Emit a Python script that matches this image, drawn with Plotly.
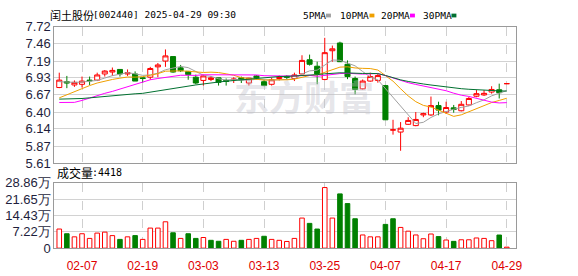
import plotly.graph_objects as go

W, H = 578, 276

# ---------------- data ----------------
dates = ["01-27", "02-05", "02-06", "02-07", "02-10", "02-11", "02-12", "02-13", "02-14", "02-17",
         "02-18", "02-19", "02-20", "02-21", "02-24", "02-25", "02-26", "02-27", "02-28", "03-03",
         "03-04", "03-05", "03-06", "03-07", "03-10", "03-11", "03-12", "03-13", "03-14", "03-17",
         "03-18", "03-19", "03-20", "03-21", "03-24", "03-25", "03-26", "03-27", "03-28", "03-31",
         "04-01", "04-02", "04-03", "04-07", "04-08", "04-09", "04-10", "04-11", "04-14", "04-15",
         "04-16", "04-17", "04-18", "04-21", "04-22", "04-23", "04-24", "04-25", "04-28", "04-29"]

opens = [6.78, 6.87, 6.82, 6.83, 6.895, 6.895, 6.99, 7.02, 7.06, 6.99,
         6.99, 6.93, 6.94, 7.10, 7.19, 7.26, 7.085, 7.03, 6.94, 6.89,
         6.905, 6.93, 6.89, 6.90, 6.93, 6.85, 6.96, 6.87, 6.83, 6.92,
         6.955, 6.92, 6.99, 7.21, 7.11, 6.905, 7.35, 7.47, 7.14, 6.92,
         6.76, 6.88, 6.89, 6.81, 6.12, 6.09, 6.21, 6.19, 6.355, 6.355,
         6.50, 6.40, 6.465, 6.42, 6.51, 6.645, 6.665, 6.71, 6.745, 6.84]
highs = [7.01, 6.96, 6.89, 6.95, 6.95, 7.01, 7.05, 7.09, 7.06, 7.06,
         7.03, 6.94, 7.10, 7.16, 7.37, 7.26, 7.13, 7.03, 6.98, 6.98,
         6.96, 6.93, 6.92, 6.94, 6.95, 6.93, 6.97, 6.90, 6.93, 6.965,
         6.97, 7.01, 7.28, 7.29, 7.18, 7.55, 7.43, 7.49, 7.20, 6.95,
         6.905, 7.01, 6.99, 6.82, 6.28, 6.245, 6.32, 6.40, 6.39, 6.64,
         6.56, 6.56, 6.51, 6.57, 6.636, 6.74, 6.74, 6.80, 6.84, 6.84]
lows = [6.77, 6.77, 6.79, 6.78, 6.82, 6.88, 6.95, 6.96, 6.95, 6.96,
        6.88, 6.855, 6.90, 6.94, 7.10, 7.01, 7.02, 6.90, 6.83, 6.81,
        6.88, 6.81, 6.81, 6.85, 6.85, 6.81, 6.90, 6.80, 6.81, 6.89,
        6.91, 6.88, 6.99, 7.12, 6.83, 6.89, 7.18, 7.18, 6.91, 6.675,
        6.75, 6.87, 6.855, 6.28, 6.05, 5.80, 6.20, 6.18, 6.32, 6.34,
        6.35, 6.37, 6.39, 6.41, 6.50, 6.63, 6.65, 6.685, 6.61, 6.84]
closes = [6.895, 6.85, 6.86, 6.88, 6.885, 6.975, 7.035, 7.045, 6.99, 7.01,
          6.88, 6.92, 7.075, 7.13, 7.27, 7.02, 7.04, 6.98, 6.85, 6.96,
          6.93, 6.86, 6.875, 6.91, 6.90, 6.925, 6.93, 6.81, 6.90, 6.935,
          6.94, 6.975, 7.20, 7.14, 6.99, 7.32, 7.38, 7.18, 6.95, 6.75,
          6.88, 6.95, 6.965, 6.28, 6.125, 6.15, 6.27, 6.285, 6.375, 6.50,
          6.43, 6.47, 6.44, 6.52, 6.61, 6.685, 6.69, 6.75, 6.70, 6.84]

# volume in 万 (10k shares)
volumes = [8.45, 6.37, 5.0, 6.37, 4.3, 6.66, 7.08, 5.54, 3.87, 5.0,
           5.54, 3.87, 8.87, 8.87, 11.66, 6.79, 4.3, 6.37, 4.3, 4.7,
           3.46, 3.04, 3.87, 3.04, 3.46, 3.87, 4.3, 5.25, 3.87, 3.46,
           2.95, 4.3, 13.3, 10.95, 8.45, 26.8, 13.3, 24.0, 19.7, 13.0,
           5.83, 5.0, 5.0, 10.5, 13.0, 9.16, 7.5, 5.83, 4.16, 6.25,
           5.1, 3.6, 3.0, 3.7, 3.7, 4.5, 4.3, 3.3, 5.8, 0.4418]

ma5 = [6.87, 6.86, 6.86, 6.865, 6.874, 6.89, 6.927, 6.964, 6.986, 7.011,
       6.992, 6.969, 6.975, 7.003, 7.055, 7.083, 7.107, 7.088, 7.032, 6.97,
       6.952, 6.916, 6.895, 6.907, 6.895, 6.894, 6.908, 6.895, 6.893, 6.90,
       6.903, 6.912, 6.99, 7.038, 7.049, 7.125, 7.206, 7.202, 7.164, 7.116,
       7.028, 6.942, 6.899, 6.765, 6.64, 6.494, 6.358, 6.222, 6.241, 6.316,
       6.372, 6.412, 6.443, 6.472, 6.494, 6.545, 6.589, 6.651, 6.687, 6.733]
ma10 = [6.62, 6.67, 6.72, 6.76, 6.81, 6.85, 6.88, 6.905, 6.925, 6.943,
        6.941, 6.948, 6.97, 6.995, 7.033, 7.038, 7.038, 7.032, 7.018, 7.013,
        7.018, 7.012, 6.992, 6.97, 6.933, 6.923, 6.912, 6.895, 6.90, 6.898,
        6.899, 6.91, 6.943, 6.966, 6.975, 7.014, 7.059, 7.096, 7.101, 7.083,
        7.077, 7.074, 7.051, 6.965, 6.878, 6.761, 6.65, 6.561, 6.503, 6.478,
        6.433, 6.385, 6.333, 6.357, 6.405, 6.459, 6.501, 6.547, 6.58, 6.614]
ma20 = [6.548, 6.548, 6.55, 6.58, 6.62, 6.655, 6.69, 6.72, 6.755, 6.79,
        6.83, 6.87, 6.90, 6.92, 6.94, 6.955, 6.97, 6.97, 6.968, 6.978,
        6.979, 6.98, 6.981, 6.982, 6.983, 6.98, 6.975, 6.963, 6.959, 6.955,
        6.958, 6.961, 6.967, 6.968, 6.954, 6.969, 6.986, 6.996, 7.001, 6.99,
        6.988, 6.992, 6.997, 6.965, 6.926, 6.888, 6.855, 6.828, 6.802, 6.78,
        6.755, 6.73, 6.692, 6.661, 6.642, 6.61, 6.575, 6.554, 6.541, 6.546]
ma30 = [6.60, 6.60, 6.60, 6.61, 6.62, 6.632, 6.645, 6.655, 6.667, 6.677,
        6.683, 6.69, 6.71, 6.728, 6.745, 6.762, 6.78, 6.80, 6.82, 6.835,
        6.855, 6.865, 6.878, 6.89, 6.90, 6.91, 6.922, 6.932, 6.942, 6.951,
        6.952, 6.957, 6.968, 6.977, 6.98, 6.992, 7.003, 7.008, 7.006, 6.998,
        6.998, 6.999, 6.995, 6.967, 6.928, 6.899, 6.874, 6.851, 6.835, 6.819,
        6.803, 6.79, 6.775, 6.762, 6.753, 6.745, 6.737, 6.735, 6.728, 6.725]

price_ticks = [7.72, 7.46, 7.19, 6.93, 6.67, 6.40, 6.14, 5.87, 5.61]
vol_ticks = [0, 7.22, 14.43, 21.65, 28.86]
date_ticks = ["02-07", "02-19", "03-03", "03-13", "03-25", "04-07", "04-17", "04-29"]

title_name = "闰土股份"
title_rest = "[002440] 2025-04-29 09:30"
vol_label = "成交量"
vol_now = ":4418"
ma_names = ["5PMA", "10PMA", "20PMA", "30PMA"]

# ---------------- styles ----------------
UP = "#ff0000"
DOWN = "#008000"
MA_COLORS = ["#a0a0a0", "#f0a000", "#ff00ff", "#007030"]
GRID = "#d2d2d2"
BORDER = "#9a9a9a"
NUM_FONT = "Liberation Sans, Arial, sans-serif"
MONO = "DejaVu Sans Mono, monospace"
CJK = "Noto Sans CJK SC, sans-serif"

n = len(dates)
vol_up = [closes[0] >= opens[0]] + [closes[i] >= closes[i - 1] for i in range(1, n)]
vol_fill = ["#ffffff" if u else DOWN for u in vol_up]
vol_line = [UP if u else DOWN for u in vol_up]

fig = go.Figure()
fig.add_trace(go.Candlestick(
    x=dates, open=opens, high=highs, low=lows, close=closes,
    increasing=dict(line=dict(color=UP, width=1), fillcolor="#ffffff"),
    decreasing=dict(line=dict(color=DOWN, width=1), fillcolor=DOWN),
    whiskerwidth=0, xaxis="x", yaxis="y", hoverinfo="skip", showlegend=False))
for vals, col in zip([ma5, ma10, ma20, ma30], MA_COLORS):
    fig.add_trace(go.Scatter(x=dates, y=vals, mode="lines", line=dict(color=col, width=1),
                             xaxis="x", yaxis="y", hoverinfo="skip", showlegend=False))
fig.add_trace(go.Bar(x=dates, y=volumes, width=0.6,
                     marker=dict(color=vol_fill, line=dict(color=vol_line, width=1)),
                     xaxis="x2", yaxis="y2", hoverinfo="skip", showlegend=False))

xr = [-0.65, 60.17]
xcommon = dict(type="category", range=xr, tickvals=date_ticks, ticktext=date_ticks,
               showgrid=True, gridcolor="#cfcfcf", griddash="dash", gridwidth=1,
               showline=True, linecolor=BORDER, linewidth=1, mirror=True,
               zeroline=False, fixedrange=True)
ycommon = dict(showgrid=True, gridcolor=GRID, gridwidth=1, showline=True, linecolor=BORDER,
               linewidth=1, mirror=True, zeroline=False, ticks="", fixedrange=True)

fig.update_layout(
    width=W, height=H, margin=dict(l=0, r=0, t=0, b=0),
    paper_bgcolor="white", plot_bgcolor="white", showlegend=False,
    boxgap=0.3, boxgroupgap=0.05,
    xaxis=dict(domain=[55 / W, 522 / W], anchor="y", showticklabels=False, ticks="",
               rangeslider=dict(visible=False), **xcommon),
    yaxis=dict(domain=[1 - 165 / H, 1 - 21 / H], range=[5.61, 7.72], tickvals=price_ticks,
               ticktext=[f"{v:.2f}" for v in price_ticks],
               tickfont=dict(family=NUM_FONT, size=13, color="#1e1e3c"), **ycommon),
    xaxis2=dict(domain=[55 / W, 522 / W], anchor="y2", ticks="outside", ticklen=6,
                tickcolor="rgba(0,0,0,0)",
                tickfont=dict(family=NUM_FONT, size=12, color="#e00000"), **xcommon),
    yaxis2=dict(domain=[1 - 255 / H, 1 - 186 / H], range=[0, 28.86], tickvals=vol_ticks,
                ticktext=["0" if v == 0 else f"{v:.2f}万" for v in vol_ticks],
                tickfont=dict(family=NUM_FONT, size=13, color="#1e1e3c"), **ycommon),
)

ann = []
ann.append(dict(text="<b>东方财富</b>", x=308 / W, y=1 - 94 / H, xref="paper", yref="paper",
                showarrow=False, xanchor="center", yanchor="middle",
                font=dict(family=CJK, size=35, color="rgba(190,190,200,0.4)")))
ann.append(dict(text=title_name, x=49 / W, y=1 - 8 / H, xref="paper", yref="paper", showarrow=False,
                xanchor="left", yanchor="middle", font=dict(family=CJK, size=11, color="#000")))
ann.append(dict(text=title_rest, x=92 / W, y=1 - 8 / H, xref="paper", yref="paper", showarrow=False,
                xanchor="left", yanchor="middle", font=dict(family=MONO, size=9.5, color="#000")))
text_x = [305, 342, 384, 426]
sq_x = [330, 374, 415, 457]
shapes = []
for name, col, tx, sx in zip(ma_names, MA_COLORS, text_x, sq_x):
    ann.append(dict(text=name, x=tx / W, y=1 - 9 / H, xref="paper", yref="paper", showarrow=False,
                    xanchor="left", yanchor="middle", font=dict(family=MONO, size=9.5, color="#000")))
    shapes.append(dict(type="rect", xref="paper", yref="paper", x0=sx / W, x1=(sx + 5) / W,
                       y0=1 - 11 / H, y1=1 - 7 / H, fillcolor=col, line=dict(width=0)))
ann.append(dict(text=vol_label, x=56 / W, y=1 - 175 / H, xref="paper", yref="paper", showarrow=False,
                xanchor="left", yanchor="middle", font=dict(family=CJK, size=12, color="#000")))
ann.append(dict(text=vol_now, x=91 / W, y=1 - 175 / H, xref="paper", yref="paper", showarrow=False,
                xanchor="left", yanchor="middle", font=dict(family=MONO, size=10, color="#000")))
fig.update_layout(annotations=ann, shapes=shapes)

fig.write_html("out.html", config={"displayModeBar": False})
